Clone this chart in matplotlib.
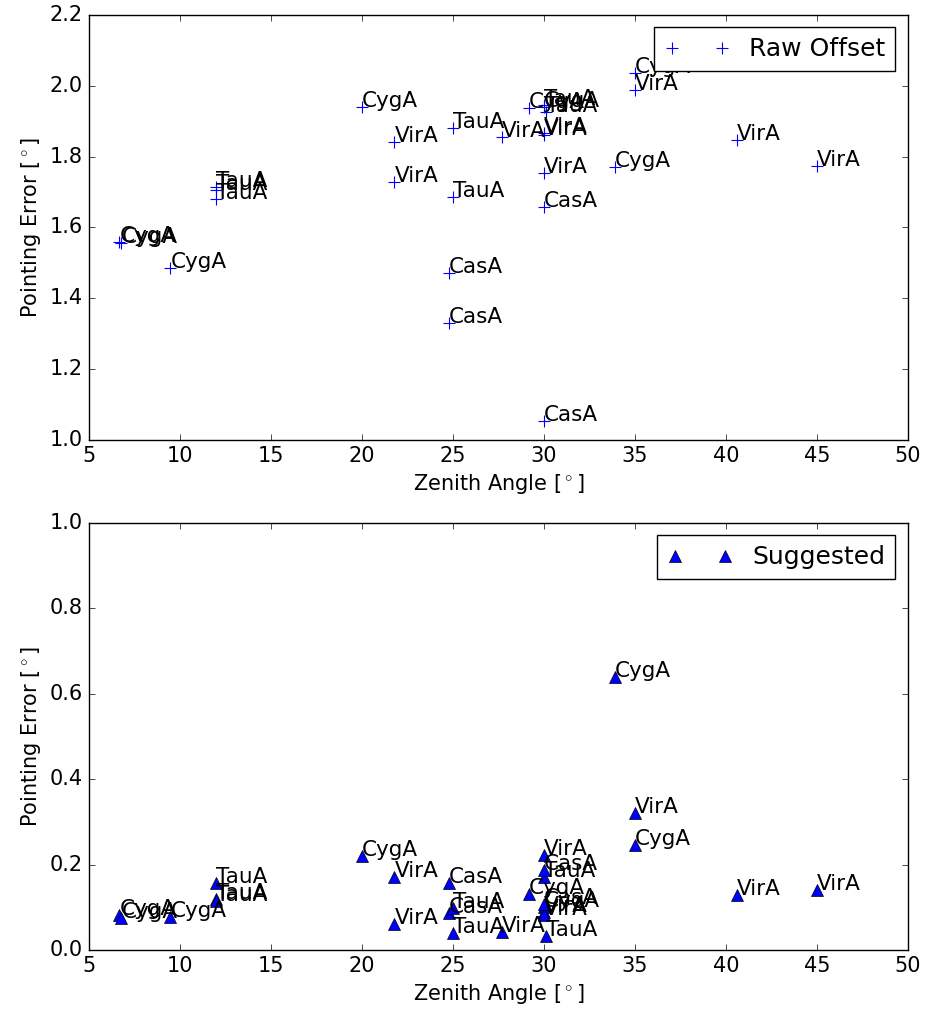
import matplotlib
matplotlib.use('Agg')
import matplotlib.pyplot as plt

plt.style.use('classic')

# zenith angle, source name, raw offset, suggested offset (degrees)
zenith = [6.7, 6.8, 9.5, 12.0, 12.0, 12.0, 20.0, 21.8, 21.8, 24.8, 24.8, 25.0, 25.0, 27.7,
          29.2, 30.0, 30.0, 30.1, 30.0, 30.0, 30.0, 30.0, 30.0, 33.9, 35.0, 35.0, 40.6, 45.0]
sources = ['CygA', 'CygA', 'CygA', 'TauA', 'TauA', 'TauA', 'CygA', 'VirA', 'VirA', 'CasA', 'CasA',
           'TauA', 'TauA', 'VirA', 'CygA', 'CygA', 'TauA', 'TauA', 'VirA', 'VirA', 'VirA', 'CasA',
           'CasA', 'CygA', 'CygA', 'VirA', 'VirA', 'VirA']
raw = [1.560, 1.556, 1.486, 1.715, 1.706, 1.680, 1.940, 1.840, 1.728, 1.471, 1.330, 1.880, 1.686, 1.855,
       1.937, 1.940, 1.945, 1.925, 1.868, 1.862, 1.755, 1.658, 1.054, 1.771, 2.036, 1.988, 1.847, 1.773]
suggested = [0.083, 0.075, 0.078, 0.157, 0.120, 0.115, 0.220, 0.170, 0.060, 0.157, 0.087, 0.098, 0.040, 0.042,
             0.132, 0.100, 0.171, 0.032, 0.222, 0.090, 0.082, 0.187, 0.108, 0.640, 0.245, 0.320, 0.128, 0.140]

fig = plt.figure(figsize=(9.27, 10.17), dpi=100, facecolor='white')
ax1 = fig.add_axes([0.0955, 0.5674, 0.884, 0.4179])
ax2 = fig.add_axes([0.0955, 0.0659, 0.884, 0.4200])

ax1.plot(zenith, raw, '+', color='b', markeredgecolor='b', markeredgewidth=0.8,
         markersize=8, label='Raw Offset')
for x, y, s in zip(zenith, raw, sources):
    ax1.text(x, y, s, fontsize=15.5)
ax1.set_xlim(5, 50)
ax1.set_ylim(1.0, 2.2)
ax1.legend(loc='upper right', numpoints=2, fontsize=18, handlelength=2.6).set_zorder(10)

ax2.plot(zenith, suggested, 'b^', markersize=8, label='Suggested')
for x, y, s in zip(zenith, suggested, sources):
    ax2.text(x, y, s, fontsize=15.5)
ax2.set_xlim(5, 50)
ax2.set_ylim(0.0, 1.0)
ax2.legend(loc='upper right', numpoints=2, fontsize=18, handlelength=2.6).set_zorder(10)

for ax in (ax1, ax2):
    ax.set_xlabel(r'Zenith Angle [$^\circ$]', fontsize=15)
    ax.set_ylabel(r'Pointing Error [$^\circ$]', fontsize=15)
    ax.tick_params(labelsize=15)

fig.savefig('out.png', dpi=100, facecolor='white')
